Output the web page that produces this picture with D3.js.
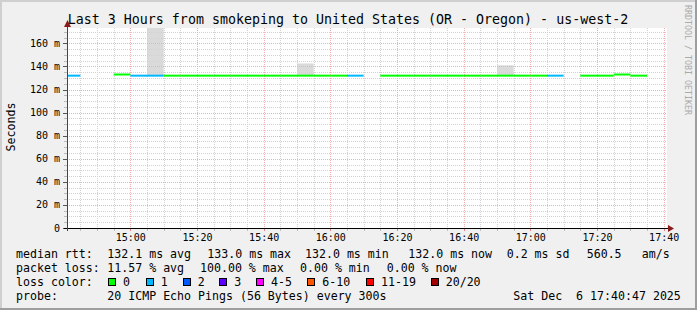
<!DOCTYPE html>
<html>
<head>
<meta charset="utf-8">
<script src="https://cdn.jsdelivr.net/npm/d3@7"></script>
<style>
  body { margin: 0; background: #f0f0f0; }
  svg { display: block; font-family: "DejaVu Sans Mono", monospace; }
  svg text { white-space: pre; }
</style>
</head>
<body>
<div id="chart"></div>
<script>
// 5 minute bins, start time of each bin
var binStart = ["14:40","14:45","14:50","14:55","15:00","15:05","15:10","15:15","15:20","15:25",
                "15:30","15:35","15:40","15:45","15:50","15:55","16:00","16:05","16:10","16:15",
                "16:20","16:25","16:30","16:35","16:40","16:45","16:50","16:55","17:00","17:05",
                "17:10","17:15","17:20","17:25","17:30","17:35"];
// median rtt in ms (null = no answer)
var medianRtt = [132.0, null, null, 133.0, 132.0, 132.0, 132.0, 132.0, 132.0, 132.0,
                 132.0, 132.0, 132.0, 132.0, 132.0, 132.0, 132.0, 132.0, null, 132.0,
                 132.0, 132.0, 132.0, 132.0, 132.0, 132.0, 132.0, 132.0, 132.0, 132.0,
                 null, 132.0, 132.0, 133.0, 132.0, null];
// lost pings out of 20
var lossCount = [1, 20, 20, 0, 1, 1, 0, 0, 0, 0,
                 0, 0, 0, 0, 0, 0, 0, 1, 20, 0,
                 0, 0, 0, 0, 0, 0, 0, 0, 0, 1,
                 20, 0, 0, 0, 0, 20];
// highest ping of the bin where the smoke shows
var smokeMax = [null, null, null, null, null, 190, null, null, null, null,
                null, null, null, null, 142.6, null, null, null, null, null,
                null, null, null, null, null, null, 141.0, null, null, null,
                null, null, null, null, null, null];

var lossLabels = ["0", "1", "2", "3", "4-5", "6-10", "11-19", "20/20"];
var lossUpper  = [0, 1, 2, 3, 5, 10, 19, 20];
var lossColors = ["#00ff00", "#00b8ff", "#0059ff", "#5e00ff", "#ff00fe", "#ff5500", "#ff0000", "#a10000"];

var yTicks = [0, 20, 40, 60, 80, 100, 120, 140, 160];
var xTickLabels = ["15:00", "15:20", "15:40", "16:00", "16:20", "16:40", "17:00", "17:20", "17:40"];

var title = "Last 3 Hours from smokeping to United States (OR - Oregon) - us-west-2";
var rttStats = ["132.1 ms avg", "133.0 ms max", "132.0 ms min", "132.0 ms now", "0.2 ms sd", "560.5", "am/s"];
var lossStats = ["11.57 % avg", "100.00 % max", "0.00 % min", "0.00 % now"];
var probeText = "20 ICMP Echo Pings (56 Bytes) every 300s";
var stampText = "Sat Dec  6 17:40:47 2025";

var W = 697, H = 310;
var pL = 67, pR = 667, pT = 28, pB = 228;

var parse = d3.timeParse("%Y-%m-%d %H:%M");
function t(s) { return parse("2025-12-06 " + s); }

var x = d3.scaleTime().domain([t("14:41"), t("17:41")]).range([pL, pR]);
var y = d3.scaleLinear().domain([0, 173.3]).range([pB, pT]);

function lossColor(n) {
    for (var i = 0; i < lossUpper.length; i++) if (n <= lossUpper[i]) return lossColors[i];
    return lossColors[lossColors.length - 1];
}

var svg = d3.select("#chart").append("svg").attr("width", W).attr("height", H);

// background + shaded frame
svg.append("rect").attr("width", W).attr("height", H).attr("fill", "#f0f0f0");
svg.append("rect").attr("x", 0).attr("y", 0).attr("width", W).attr("height", 2).attr("fill", "#cfcfcf");
svg.append("rect").attr("x", 0).attr("y", 0).attr("width", 2).attr("height", H).attr("fill", "#cfcfcf");
svg.append("rect").attr("x", W - 2).attr("y", 0).attr("width", 2).attr("height", H).attr("fill", "#9e9e9e");
svg.append("rect").attr("x", 0).attr("y", H - 2).attr("width", W).attr("height", 2).attr("fill", "#9e9e9e");

// canvas
svg.append("rect").attr("x", pL).attr("y", pT).attr("width", pR - pL).attr("height", pB - pT).attr("fill", "#fff");

svg.append("defs").append("clipPath").attr("id", "plot")
    .append("rect").attr("x", pL).attr("y", pT).attr("width", pR - pL).attr("height", pB - pT);

var data = binStart.map(function (s, i) {
    var st = t(s);
    return { start: st, end: d3.timeMinute.offset(st, 5), median: medianRtt[i], loss: lossCount[i], smoke: smokeMax[i] };
});

// smoke
svg.append("g").attr("clip-path", "url(#plot)")
    .selectAll("rect").data(data.filter(function (d) { return d.smoke != null; }))
    .enter().append("rect")
    .attr("x", function (d) { return x(d.start); })
    .attr("width", function (d) { return x(d.end) - x(d.start); })
    .attr("y", function (d) { return y(d.smoke); })
    .attr("height", function (d) { return y(d.median) - y(d.smoke); })
    .attr("fill", "#dadada");

// grid
var grid = svg.append("g");
var minorY = d3.range(5, 175, 5).filter(function (v) { return v % 20 != 0; });
var px = function (v) { return Math.round(v) + 0.5; };
grid.selectAll(".hminor").data(minorY).enter().append("line")
    .attr("x1", pL).attr("x2", pR)
    .attr("y1", function (d) { return px(y(d)); }).attr("y2", function (d) { return px(y(d)); })
    .attr("stroke", "#d2d2d2").attr("stroke-dasharray", "1,1");
var minorX = x.ticks(d3.timeMinute.every(5)).filter(function (d) { return d.getMinutes() % 20 != 0; });
grid.selectAll(".vminor").data(minorX).enter().append("line")
    .attr("x1", function (d) { return px(x(d)); }).attr("x2", function (d) { return px(x(d)); })
    .attr("y1", pT).attr("y2", pB)
    .attr("stroke", "#d2d2d2").attr("stroke-dasharray", "1,1");
grid.selectAll(".hmajor").data(yTicks.slice(1)).enter().append("line")
    .attr("x1", pL).attr("x2", pR)
    .attr("y1", function (d) { return px(y(d)); }).attr("y2", function (d) { return px(y(d)); })
    .attr("stroke", "#f0b0b0").attr("stroke-dasharray", "1,1");
var majorX = xTickLabels.map(t);
grid.selectAll(".vmajor").data(majorX).enter().append("line")
    .attr("x1", function (d) { return px(x(d)); }).attr("x2", function (d) { return px(x(d)); })
    .attr("y1", pT).attr("y2", pB)
    .attr("stroke", "#f0b0b0").attr("stroke-dasharray", "1,1");

// axis tick marks
grid.selectAll(".xt").data(minorX).enter().append("line")
    .attr("x1", function (d) { return px(x(d)); }).attr("x2", function (d) { return px(x(d)); })
    .attr("y1", pB).attr("y2", pB + 3).attr("stroke", "#bbbbbb");
grid.selectAll(".xT").data(majorX).enter().append("line")
    .attr("x1", function (d) { return px(x(d)); }).attr("x2", function (d) { return px(x(d)); })
    .attr("y1", pB).attr("y2", pB + 3).attr("stroke", "#e08080");
grid.selectAll(".yt").data(minorY).enter().append("line")
    .attr("x1", pL - 3).attr("x2", pL)
    .attr("y1", function (d) { return px(y(d)); }).attr("y2", function (d) { return px(y(d)); })
    .attr("stroke", "#bbbbbb");
grid.selectAll(".yT").data(yTicks).enter().append("line")
    .attr("x1", pL - 4).attr("x2", pL)
    .attr("y1", function (d) { return px(y(d)); }).attr("y2", function (d) { return px(y(d)); })
    .attr("stroke", "#555");

// median rtt, coloured by loss
var line = d3.line();
svg.append("g").attr("clip-path", "url(#plot)")
    .selectAll("path").data(data.filter(function (d) { return d.median != null; }))
    .enter().append("path")
    .attr("d", function (d) { return line([[x(d.start), y(d.median)], [x(d.end), y(d.median)]]); })
    .attr("stroke", function (d) { return lossColor(d.loss); })
    .attr("stroke-width", 2).attr("fill", "none");

// axes
svg.append("line").attr("x1", pL - 3).attr("x2", pR + 2).attr("y1", pB + 0.5).attr("y2", pB + 0.5).attr("stroke", "#000");
svg.append("line").attr("x1", pL + 0.5).attr("x2", pL + 0.5).attr("y1", pB + 3).attr("y2", pT - 4).attr("stroke", "#444");
svg.append("path").attr("d", "M668,225L668,232L674,228.5Z").attr("fill", "#8b1a1a");
svg.append("path").attr("d", "M64,27L71,27L67.5,20Z").attr("fill", "#8b1a1a");

// tick labels
svg.append("g").selectAll("text").data(yTicks).enter().append("text")
    .attr("x", 60).attr("y", function (d) { return y(d) + 3.5; })
    .attr("text-anchor", "end").attr("font-size", "10px")
    .text(function (d) { return d == 0 ? "0" : d + " m"; });
svg.append("g").selectAll("text").data(majorX).enter().append("text")
    .attr("x", function (d) { return x(d) + 0.5; }).attr("y", 241)
    .attr("text-anchor", "middle").attr("font-size", "10px")
    .text(function (d, i) { return xTickLabels[i]; });

// titles
svg.append("text").attr("x", 348).attr("y", 24).attr("text-anchor", "middle")
    .attr("font-size", "13.3px").text(title);
svg.append("text").attr("transform", "translate(11,127) rotate(-90)")
    .attr("text-anchor", "middle").attr("dominant-baseline", "central")
    .attr("font-size", "11.6px").text("Seconds");
svg.append("text").attr("transform", "translate(688,5) rotate(90)")
    .attr("dominant-baseline", "central").attr("font-size", "8.3px")
    .attr("fill", "#aaaaaa").text("RRDTOOL / TOBI OETIKER");

// legend
var lg = svg.append("g").attr("font-size", "11.6px");
lg.append("text").attr("x", 16).attr("y", 258).text("median rtt:");
var rttX = [107.3, 207.3, 305, 408.3, 506.7, 586.7, 641.7];
rttStats.forEach(function (s, i) { lg.append("text").attr("x", rttX[i]).attr("y", 258).text(s); });
lg.append("text").attr("x", 16).attr("y", 272).text("packet loss:");
var lossX = [107.3, 200, 300, 386.7];
lossStats.forEach(function (s, i) { lg.append("text").attr("x", lossX[i]).attr("y", 272).text(s); });
lg.append("text").attr("x", 16).attr("y", 286).text("loss color:");
var boxX = [108, 145.7, 182.7, 219.3, 256, 307.3, 366, 430.7];
lossLabels.forEach(function (s, i) {
    lg.append("rect").attr("x", Math.round(boxX[i]) + 0.5).attr("y", 278.5).attr("width", 7).attr("height", 7)
        .attr("fill", lossColors[i]).attr("stroke", "#000");
    lg.append("text").attr("x", boxX[i] + 15).attr("y", 286).text(s);
});
lg.append("text").attr("x", 16).attr("y", 300).text("probe:");
lg.append("text").attr("x", 107.3).attr("y", 300).text(probeText);
lg.append("text").attr("x", 513.3).attr("y", 300).text(stampText);
</script>
</body>
</html>
